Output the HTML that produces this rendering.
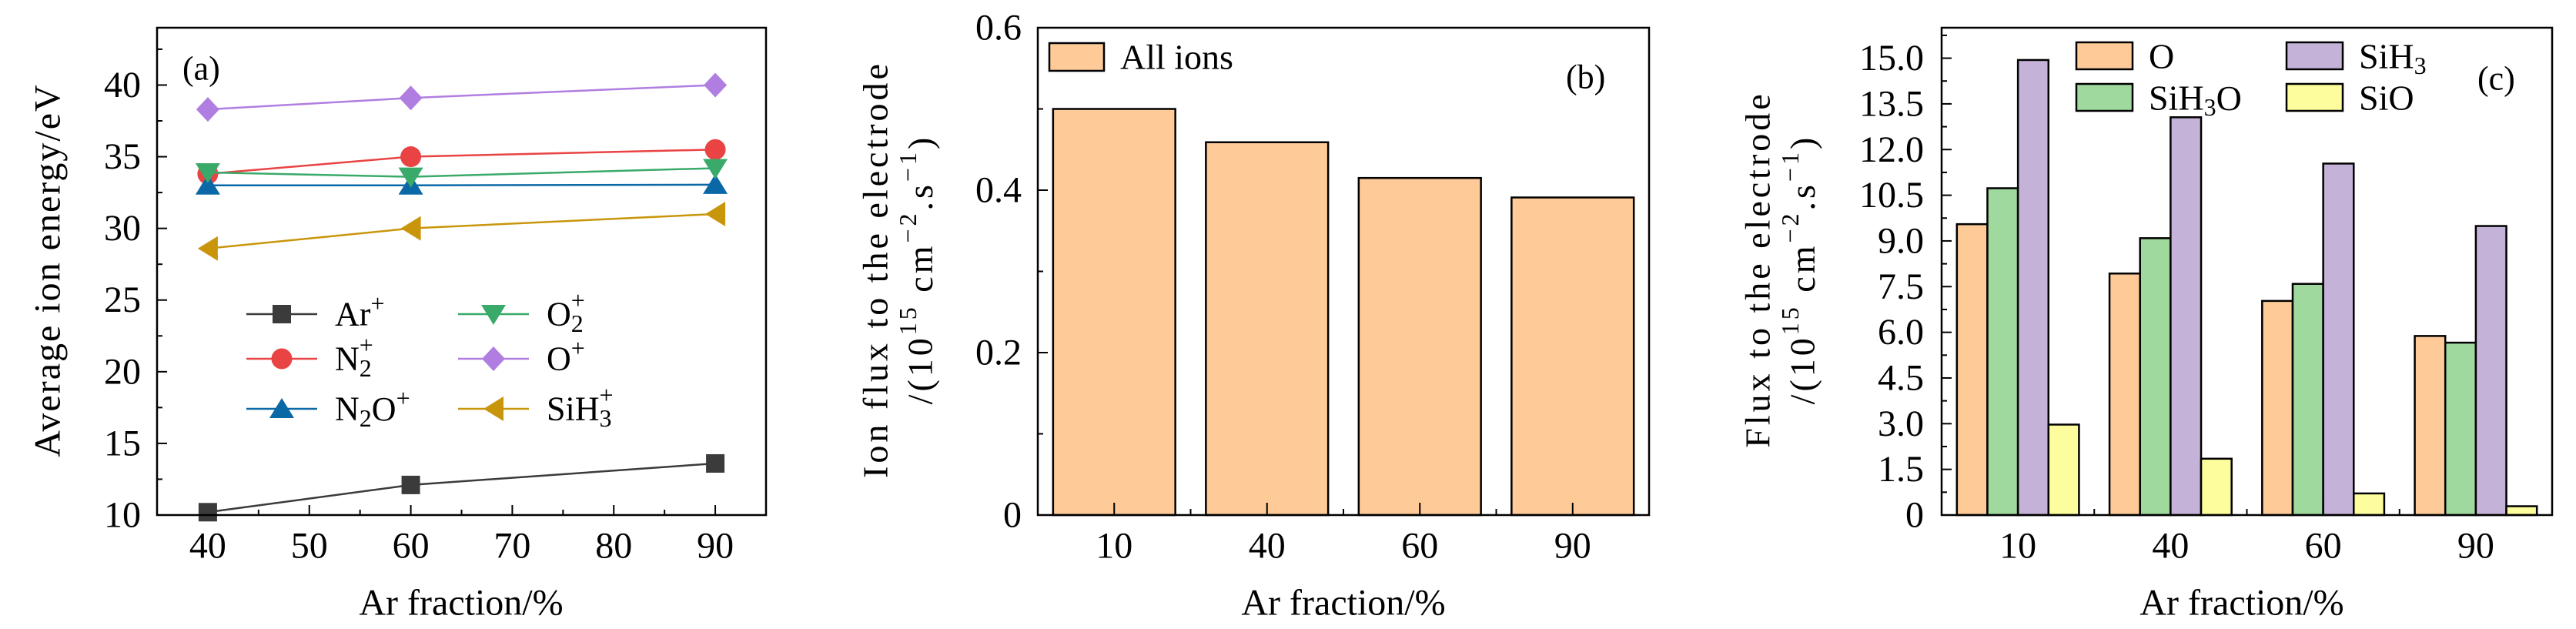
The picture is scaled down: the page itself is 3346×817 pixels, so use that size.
<!DOCTYPE html>
<html><head><meta charset="utf-8"><style>
html,body{margin:0;padding:0;background:#fff;}
svg{display:block;font-family:"Liberation Serif",serif;}
</style></head><body>
<svg id="fig" width="3346" height="817" viewBox="0 0 3346 817" xmlns="http://www.w3.org/2000/svg">
<g id="pa"></g>
<g id="pb"></g>
<g id="pc"></g>
</svg>
<script>
// ---- Panel (a) data ----
const aX = [40, 60, 90];
const aArP = [10.2, 12.1, 13.6];
const aN2P = [33.8, 35.0, 35.5];
const aN2OP = [33.0, 33.0, 33.05];
const aO2P = [33.9, 33.6, 34.2];
const aOP = [38.3, 39.1, 40.0];
const aSiH3P = [28.6, 30.0, 31.0];
const aYTicks = [10, 15, 20, 25, 30, 35, 40];
const aXTicks = [40, 50, 60, 70, 80, 90];
// ---- Panel (b) data ----
const bCats = ["10", "40", "60", "90"];
const bAll = [0.500, 0.459, 0.415, 0.391];
const bYTicks = ["0", "0.2", "0.4", "0.6"];
// ---- Panel (c) data ----
const cCats = ["10", "40", "60", "90"];
const cO = [9.55, 7.93, 7.03, 5.88];
const cSiH3O = [10.73, 9.09, 7.59, 5.66];
const cSiH3 = [14.94, 13.06, 11.54, 9.49];
const cSiO = [2.97, 1.85, 0.71, 0.29];
const cYTicks = ["0", "1.5", "3.0", "4.5", "6.0", "7.5", "9.0", "10.5", "12.0", "13.5", "15.0"];

const NS = "http://www.w3.org/2000/svg";
function mk(parent, tag, attrs, text) {
  const e = document.createElementNS(NS, tag);
  for (const k in attrs) e.setAttribute(k, attrs[k]);
  if (text !== undefined) e.textContent = text;
  parent.appendChild(e);
  return e;
}
function txt(parent, x, y, s, size, anchor, name) {
  const t = mk(parent, "text", {x: x, y: y, "font-size": size, "text-anchor": anchor || "middle", "dominant-baseline": "central", fill: "#000"});
  t.innerHTML = s;
  
  
  return t;
}
const FS = 48;

// ================= Panel A =================
(function(){
  const g = document.getElementById("pa");
  const L = 204, R = 995, T = 36, B = 669;
  const xs = v => L + (v - 35) / 60 * (R - L);
  const ys = v => B - (v - 10) / 34 * (B - T);
  // minor ticks y
  for (let v = 12.5; v < 44; v += 5) {
    const l = mk(g, "line", {x1: L, x2: L + 7, y1: ys(v), y2: ys(v), stroke: "#000", "stroke-width": 2});
     
  }
  aYTicks.forEach(v => {
    const l = mk(g, "line", {x1: L, x2: L + 13, y1: ys(v), y2: ys(v), stroke: "#000", "stroke-width": 2});
     
    txt(g, 183, ys(v), String(v), FS, "end", "y-tick-label");
  });
  for (let v = 45; v < 95; v += 10) {
    const l = mk(g, "line", {x1: xs(v), x2: xs(v), y1: B, y2: B - 7, stroke: "#000", "stroke-width": 2});
     
  }
  aXTicks.forEach(v => {
    const l = mk(g, "line", {x1: xs(v), x2: xs(v), y1: B, y2: B - 13, stroke: "#000", "stroke-width": 2});
     
    txt(g, xs(v), 709, String(v), FS, "middle", "x-tick-label");
  });
  const series = [
    {n: "ar-plus", d: aArP, c: "#3b3b3b", m: "sq"},
    {n: "n2-plus", d: aN2P, c: "#e94343", m: "ci"},
    {n: "n2o-plus", d: aN2OP, c: "#0b68a6", m: "tu"},
    {n: "o2-plus", d: aO2P, c: "#3aaa6a", m: "td"},
    {n: "o-plus", d: aOP, c: "#b07ee0", m: "di"},
    {n: "sih3-plus", d: aSiH3P, c: "#c9960b", m: "tl"}
  ];
  function marker(parent, m, x, y, c, name) {
    let e;
    const s = 14;
    if (m === "sq") e = mk(parent, "rect", {x: x - 12, y: y - 12, width: 24, height: 24, fill: c});
    else if (m === "ci") e = mk(parent, "circle", {cx: x, cy: y, r: 13.5, fill: c});
    else if (m === "tu") e = mk(parent, "polygon", {points: `${x},${y-s} ${x+s+2},${y+s-2} ${x-s-2},${y+s-2}`, fill: c});
    else if (m === "td") e = mk(parent, "polygon", {points: `${x},${y+s} ${x+s+2},${y-s+2} ${x-s-2},${y-s+2}`, fill: c});
    else if (m === "di") e = mk(parent, "polygon", {points: `${x},${y-16} ${x+15},${y} ${x},${y+16} ${x-15},${y}`, fill: c});
    else e = mk(parent, "polygon", {points: `${x-s+1},${y} ${x+s-1},${y-s-2} ${x+s-1},${y+s+2}`, fill: c});
    
    
  }
  series.forEach(s => {
    const sg = mk(g, "g", {});
    
    
    const pts = aX.map((x, i) => xs(x) + "," + ys(s.d[i])).join(" ");
    const pl = mk(sg, "polyline", {points: pts, fill: "none", stroke: s.c, "stroke-width": 2.5});
    
    
    aX.forEach((x, i) => marker(sg, s.m, xs(x), ys(s.d[i]), s.c, 'point-' + s.n));
  });
  mk(g, "rect", {x: L, y: T, width: R - L, height: B - T, fill: "none", stroke: "#000", "stroke-width": 2.5});
  txt(g, 237, 89, "(a)", 44, "start", "panel-label-a");
  // legend
  const lg = mk(g, "g", {});
   
  const leg = [
    [series[0], 320, 408, "Ar<tspan dy='-14' font-size='32'>+</tspan>"],
    [series[1], 320, 466, "N<tspan dy='12' font-size='32'>2</tspan><tspan dx='-16' dy='-30' font-size='32'>+</tspan>"],
    [series[2], 320, 531, "N<tspan dy='12' font-size='32'>2</tspan><tspan dy='-12'>O</tspan><tspan dy='-14' font-size='32'>+</tspan>"],
    [series[3], 595, 408, "O<tspan dy='12' font-size='32'>2</tspan><tspan dx='-16' dy='-30' font-size='32'>+</tspan>"],
    [series[4], 595, 466, "O<tspan dy='-14' font-size='32'>+</tspan>"],
    [series[5], 595, 531, "SiH<tspan dy='12' font-size='32'>3</tspan><tspan dx='-16' dy='-30' font-size='32'>+</tspan>"]
  ];
  leg.forEach(([s, x, y, label]) => {
    const e = mk(lg, "g", {});
    
    
    mk(e, "line", {x1: x, x2: x + 92, y1: y, y2: y, stroke: s.c, "stroke-width": 2.5});
    marker(e, s.m, x + 46, y, s.c, 'legend-marker');
    txt(e, x + 115, y, label, 44, "start", "legend-label");
  });
  txt(g, 599, 783, "Ar fraction/%", FS, "middle", "x-axis-title");
  const yt = txt(g, 0, 0, "Average ion energy/eV", FS, "middle", "y-axis-title");
  yt.setAttribute("transform", "translate(62,351) rotate(-90)");
  yt.setAttribute("letter-spacing", "2");
})();

// ================= Bar helpers =================
function yTitle2(g, x1, x2, yc, line1, name) {
  const a = txt(g, 0, 0, line1, 46, "middle", name + "-line1");
  a.setAttribute("transform", `translate(${x1},${yc}) rotate(-90)`);
  a.setAttribute("letter-spacing", "4");
  const b = txt(g, 0, 0, "/(10<tspan dy='-16' font-size='32'>15</tspan><tspan dy='16'> cm</tspan><tspan dy='-16' font-size='32'>−2</tspan><tspan dy='16'>.s</tspan><tspan dy='-16' font-size='32'>−1</tspan><tspan dy='16'>)</tspan>", 46, "middle", name + "-line2");
  b.setAttribute("transform", `translate(${x2},${yc}) rotate(-90)`);
  b.setAttribute("letter-spacing", "4");
}

// ================= Panel B =================
(function(){
  const g = document.getElementById("pb");
  const L = 1348, R = 2142, T = 36, B = 669;
  const n = bCats.length, step = (R - L) / n;
  const xc = i => L + step * (i + 0.5);
  const ys = v => B - v / 0.6 * (B - T);
  for (let v = 0.1; v < 0.6; v += 0.2) {
    const l = mk(g, "line", {x1: L, x2: L + 7, y1: ys(v), y2: ys(v), stroke: "#000", "stroke-width": 2});
     
  }
  bYTicks.forEach(s => {
    const v = parseFloat(s);
    const l = mk(g, "line", {x1: L, x2: L + 13, y1: ys(v), y2: ys(v), stroke: "#000", "stroke-width": 2});
     
    txt(g, 1327, ys(v), s, FS, "end", "y-tick-label");
  });
  bCats.forEach((c, i) => {
    const w = step * 0.8;
    const r = mk(g, "rect", {x: xc(i) - w / 2, y: ys(bAll[i]), width: w, height: B - ys(bAll[i]), fill: "#fdca98", stroke: "#000", "stroke-width": 2.5});
    
    
    const t = mk(g, "line", {x1: xc(i), x2: xc(i), y1: B, y2: B - 16, stroke: "#000", "stroke-width": 2});
     
    if (i > 0) {
      const m = mk(g, "line", {x1: L + step * i, x2: L + step * i, y1: B, y2: B - 8, stroke: "#000", "stroke-width": 2});
       
    }
    txt(g, xc(i), 709, c, FS, "middle", "x-tick-label");
  });
  mk(g, "rect", {x: L, y: T, width: R - L, height: B - T, fill: "none", stroke: "#000", "stroke-width": 2.5});
  const lg = mk(g, "g", {});
   
  mk(lg, "rect", {x: 1363, y: 56, width: 71, height: 36, fill: "#fdca98", stroke: "#000", "stroke-width": 2.5});
  txt(lg, 1455, 74, "All ions", 46, "start", "legend-label");
  txt(g, 2034, 100, "(b)", 44, "start", "panel-label-b");
  txt(g, 1745, 783, "Ar fraction/%", FS, "middle", "x-axis-title");
  yTitle2(g, 1137, 1195, 350, "Ion flux to the electrode", "y-axis-title");
})();

// ================= Panel C =================
(function(){
  const g = document.getElementById("pc");
  const L = 2522, R = 3315, T = 36, B = 669;
  const n = cCats.length, step = (R - L) / n;
  const ys = v => B - v / 16 * (B - T);
  for (let v = 0.75; v < 16; v += 1.5) {
    const l = mk(g, "line", {x1: L, x2: L + 7, y1: ys(v), y2: ys(v), stroke: "#000", "stroke-width": 2});
     
  }
  cYTicks.forEach(s => {
    const v = parseFloat(s);
    const l = mk(g, "line", {x1: L, x2: L + 13, y1: ys(v), y2: ys(v), stroke: "#000", "stroke-width": 2});
     
    txt(g, 2499, ys(v), s, FS, "end", "y-tick-label");
  });
  const series = [
    {n: "o", d: cO, c: "#fdca98"},
    {n: "sih3o", d: cSiH3O, c: "#9fd99d"},
    {n: "sih3", d: cSiH3, c: "#c4b2d9"},
    {n: "sio", d: cSiO, c: "#fdfd9e"}
  ];
  const bw = step * 0.2;
  cCats.forEach((c, i) => {
    const x0 = L + step * i + step * 0.1;
    series.forEach((s, j) => {
      const r = mk(g, "rect", {x: x0 + bw * j, y: ys(s.d[i]), width: bw, height: B - ys(s.d[i]), fill: s.c, stroke: "#000", "stroke-width": 2.5});
      
      
    });
    const xc = L + step * (i + 0.5);
    const t = mk(g, "line", {x1: xc, x2: xc, y1: B, y2: B - 16, stroke: "#000", "stroke-width": 2});
     
    if (i > 0) {
      const m = mk(g, "line", {x1: L + step * i, x2: L + step * i, y1: B, y2: B - 8, stroke: "#000", "stroke-width": 2});
       
    }
    txt(g, xc, 709, c, FS, "middle", "x-tick-label");
  });
  mk(g, "rect", {x: L, y: T, width: R - L, height: B - T, fill: "none", stroke: "#000", "stroke-width": 2.5});
  const leg = [
    [series[0], 2697, 55, "O"],
    [series[2], 2970, 55, "SiH<tspan dy='12' font-size='32'>3</tspan>"],
    [series[1], 2697, 109, "SiH<tspan dy='12' font-size='32'>3</tspan><tspan dy='-12'>O</tspan>"],
    [series[3], 2970, 109, "SiO"]
  ];
  leg.forEach(([s, x, y, label]) => {
    const e = mk(g, "g", {});
    
    
    mk(e, "rect", {x: x, y: y, width: 73, height: 35, fill: s.c, stroke: "#000", "stroke-width": 2.5});
    txt(e, x + 94, y + 18, label, 46, "start", "legend-label");
  });
  txt(g, 3218, 102, "(c)", 44, "start", "panel-label-c");
  txt(g, 2912, 783, "Ar fraction/%", FS, "middle", "x-axis-title");
  yTitle2(g, 2283, 2341, 350, "Flux to the electrode", "y-axis-title");
})();
</script>
</body></html>
